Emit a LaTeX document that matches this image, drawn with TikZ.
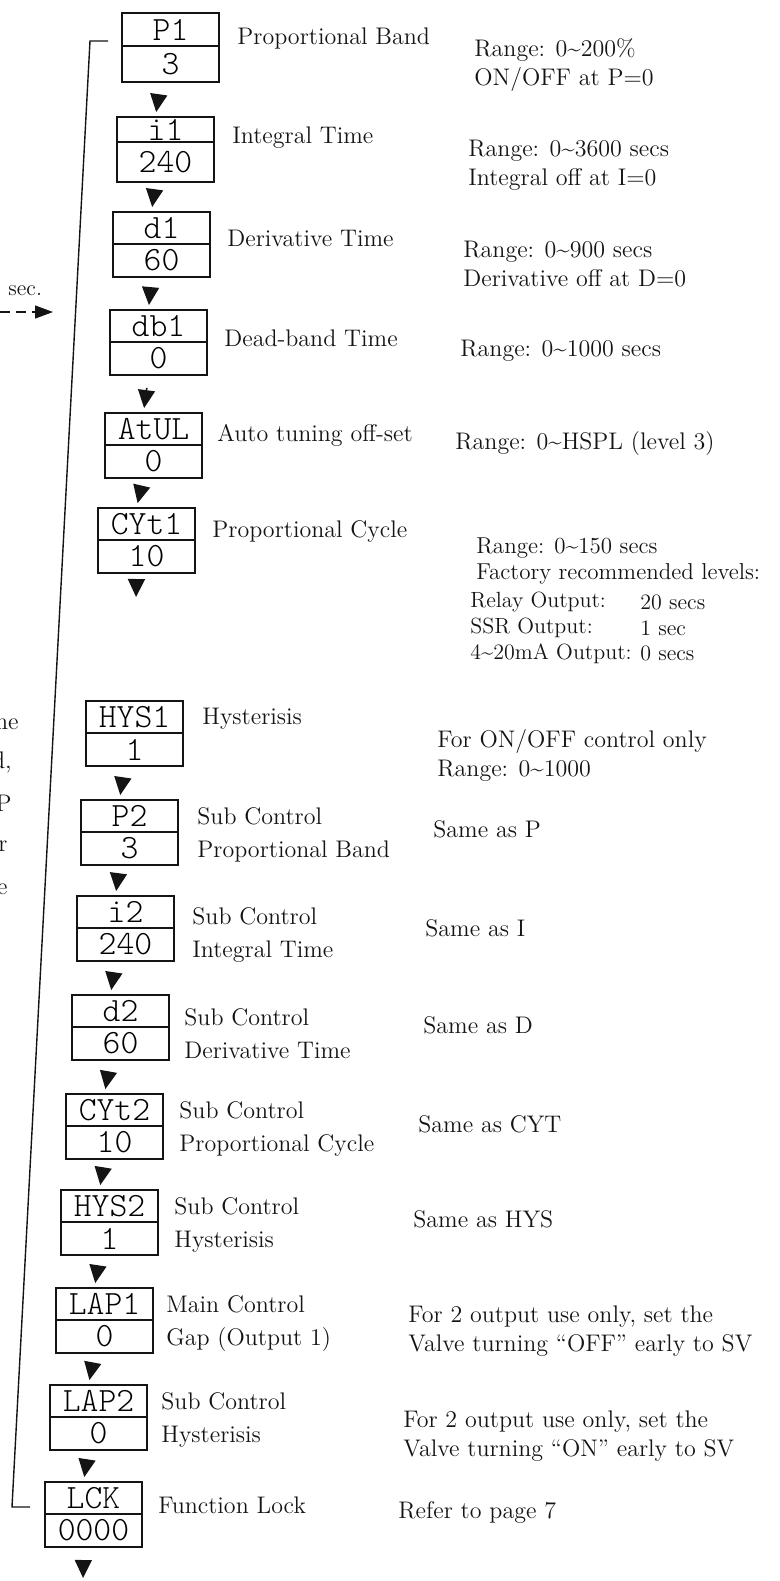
\documentclass[tikz,border=0pt]{standalone}
\usepackage{tikz}
\usetikzlibrary{arrows.meta}
\usetikzlibrary{positioning}
\definecolor{scan-ink}{HTML}{141414}

\begin{document}
\begin{tikzpicture}[x=0.5pt, y=-0.5pt,
    visor/.style={draw=scan-ink, line width=0.8pt, minimum width=48.5pt, minimum height=16pt,
        inner sep=0pt, outer sep=0pt, font=\fontsize{17}{17}\ttfamily\fontseries{l}\selectfont},
    valor/.style={visor, minimum height=16.5pt},
    etiqueta/.style={anchor=west, align=left, inner sep=0pt, scan-ink, font=\fontsize{12}{16.5}\selectfont},
    nota/.style={anchor=west, align=left, inner sep=0pt, scan-ink, font=\fontsize{12}{14.5}\selectfont},
    paso/.style={-{Triangle[width=8.5pt, length=9pt]}, line width=0.8pt, scan-ink,
        shorten <=6.5pt, shorten >=2.5pt},
    lazo/.style={line width=0.7pt, scan-ink, shorten <=7.5pt, shorten >=7pt}]

    \useasboundingbox (0,0) rectangle (780,1581);

    % --- VISORES DE 7 SEGMENTOS (parametro em cima, valor em baixo) ---
    \node[visor, anchor=north west, minimum height=16.5pt] (p1) at (122,13) {P1};
    \node[valor, below=0pt of p1, minimum height=18pt] (p1v) {3};

    \node[visor, anchor=north west, minimum height=12.5pt] (i1) at (117,117) {i1};
    \node[valor, below=0pt of i1, minimum height=20pt] (i1v) {240};

    \node[visor, anchor=north west] (d1) at (113,212) {d1};
    \node[valor, below=0pt of d1] (d1v) {60};

    \node[visor, anchor=north west] (db1) at (110,310) {db1};
    \node[valor, below=0pt of db1] (db1v) {0};

    \node[visor, anchor=north west] (atul) at (105,413) {AtUL};
    \node[valor, below=0pt of atul] (atulv) {0};

    \node[visor, anchor=north west] (cyt1) at (98,508) {CYt1};
    \node[valor, below=0pt of cyt1] (cyt1v) {10};

    \node[visor, anchor=north west] (hys1) at (86,701) {HYS1};
    \node[valor, below=0pt of hys1] (hys1v) {1};

    \node[visor, anchor=north west] (p2) at (81,800) {P2};
    \node[valor, below=0pt of p2] (p2v) {3};

    \node[visor, anchor=north west] (i2) at (77,896) {i2};
    \node[valor, below=0pt of i2] (i2v) {240};

    \node[visor, anchor=north west] (d2) at (72,995) {d2};
    \node[valor, below=0pt of d2] (d2v) {60};

    \node[visor, anchor=north west] (cyt2) at (66,1094) {CYt2};
    \node[valor, below=0pt of cyt2] (cyt2v) {10};

    \node[visor, anchor=north west] (hys2) at (61,1190) {HYS2};
    \node[valor, below=0pt of hys2] (hys2v) {1};

    \node[visor, anchor=north west] (lap1) at (56,1288) {LAP1};
    \node[valor, below=0pt of lap1] (lap1v) {0};

    \node[visor, anchor=north west] (lap2) at (50,1385) {LAP2};
    \node[valor, below=0pt of lap2] (lap2v) {0};

    \node[visor, anchor=north west] (lcy) at (45,1482) {LCK};
    \node[valor, below=0pt of lcy] (lcyv) {0000};

    % --- SETAS ENTRE OS VISORES ---
    \draw[paso] ([xshift=-5pt]p1v.south) -- ([xshift=-5pt]i1.north);
    \draw[paso] ([xshift=-5pt]i1v.south) -- ([xshift=-5pt]d1.north);
    \draw[paso] ([xshift=-5pt]d1v.south) -- ([xshift=-5pt]db1.north);
    \draw[paso] ([xshift=-5pt]db1v.south) -- ([xshift=-5pt]atul.north);
    \draw[paso] ([xshift=-5pt]atulv.south) -- ([xshift=-5pt]cyt1.north);
    \coordinate (cyt1-fim) at (136,602);
    \draw[paso] ([xshift=-5pt]cyt1v.south) -- (cyt1-fim);
    \draw[paso] ([xshift=-5pt]hys1v.south) -- ([xshift=-5pt]p2.north);
    \draw[paso] ([xshift=-5pt]p2v.south) -- ([xshift=-5pt]i2.north);
    \draw[paso] ([xshift=-5pt]i2v.south) -- ([xshift=-5pt]d2.north);
    \draw[paso] ([xshift=-5pt]d2v.south) -- ([xshift=-5pt]cyt2.north);
    \draw[paso] ([xshift=-5pt]cyt2v.south) -- ([xshift=-5pt]hys2.north);
    \draw[paso] ([xshift=-5pt]hys2v.south) -- ([xshift=-5pt]lap1.north);
    \draw[paso] ([xshift=-5pt]lap1v.south) -- ([xshift=-5pt]lap2.north);
    \draw[paso] ([xshift=-5pt]lap2v.south) -- ([xshift=-5pt]lcy.north);
    \coordinate (lcy-fim) at (83,1583);
    \draw[paso] ([xshift=-5pt]lcyv.south) -- (lcy-fim);

    % --- LACO DE RETORNO (LCK volta para P1) ---
    \coordinate (lazo-a) at (12,1507);
    \coordinate (lazo-b) at (90,41);
    \draw[lazo] (lazo-a -| lcy.west) -- (lazo-a) -- (lazo-b) -- (lazo-b -| p1.west);

    % --- ENTRADA "sec." VINDA DA PAGINA ANTERIOR ---
    \node[anchor=west, inner sep=0pt, scan-ink, font=\fontsize{11}{13}\selectfont] (seg) at (8,291) {sec.};
    \coordinate (seg-a) at (0,312);
    \coordinate (seg-b) at (53,312);
    \draw[dashed, dash pattern=on 5pt off 3pt, line width=0.6pt, scan-ink,
        -{Triangle[width=6.5pt, length=9pt]}] (seg-a) -- (seg-b);

    % --- RESTOS DE TEXTO CORTADOS NA MARGEM ---
    \node[anchor=east, inner sep=0pt, scan-ink, font=\fontsize{12}{14}\selectfont] (frag-he) at (19,721) {he};
    \node[anchor=east, inner sep=0pt, scan-ink, font=\fontsize{12}{14}\selectfont] (frag-d) at (12,762) {d,};
    \node[anchor=east, inner sep=0pt, scan-ink, font=\fontsize{12}{14}\selectfont] (frag-p) at (12,803) {P};
    \node[anchor=east, inner sep=0pt, scan-ink, font=\fontsize{12}{14}\selectfont] (frag-r) at (8,846) {r};
    \node[anchor=east, inner sep=0pt, scan-ink, font=\fontsize{12}{14}\selectfont] (frag-e) at (8,889) {e};

    % --- NOMES DOS PARAMETROS ---
    \node[etiqueta] (p1-lbl) at (237,38) {Proportional Band};
    \node[etiqueta] (i1-lbl) at (232,138) {Integral Time};
    \node[etiqueta] (d1-lbl) at (227,238) {Derivative Time};
    \node[etiqueta] (db1-lbl) at (224,338) {Dead-band Time};
    \node[etiqueta] (atul-lbl) at (217,435) {Auto tuning off-set};
    \node[etiqueta] (cyt1-lbl) at (212,531) {Proportional Cycle};
    \node[etiqueta] (hys1-lbl) at (202,719) {Hysterisis};
    \node[etiqueta] (p2-lbl) at (197,835) {Sub Control\\Proportional Band};
    \node[etiqueta] (i2-lbl) at (192,935) {Sub Control\\Integral Time};
    \node[etiqueta] (d2-lbl) at (184,1034) {Sub Control\\Derivative Time};
    \node[etiqueta] (cyt2-lbl) at (179,1129) {Sub Control\\Proportional Cycle};
    \node[etiqueta] (hys2-lbl) at (174,1225) {Sub Control\\Hysterisis};
    \node[etiqueta] (lap1-lbl) at (166,1324) {Main Control\\Gap (Output 1)};
    \node[etiqueta] (lap2-lbl) at (161,1420) {Sub Control\\Hysterisis};
    \node[etiqueta] (lcy-lbl) at (158,1505) {Function Lock};

    % --- FAIXAS E OBSERVACOES ---
    \node[nota] (p1-rng) at (474,65) {Range: 0\textasciitilde200\%\\ON/OFF at P=0};
    \node[nota] (i1-rng) at (468,165) {Range: 0\textasciitilde3600 secs\\Integral off at I=0};
    \node[nota] (d1-rng) at (463,264) {Range: 0\textasciitilde900 secs\\Derivative off at D=0};
    \node[nota] (db1-rng) at (460,351) {Range: 0\textasciitilde1000 secs};
    \node[nota] (atul-rng) at (455,444) {Range: 0\textasciitilde HSPL (level 3)};
    \node[nota, font=\fontsize{11.5}{12.9}\selectfont] (cyt1-rng) at (476,561) {Range: 0\textasciitilde150 secs\\Factory recommended levels:};
    \node[nota, font=\fontsize{11}{12.9}\selectfont] (cyt1-rel) at (470,628) {Relay Output:\\SSR Output:\\4\textasciitilde20mA Output:};
    \node[nota, font=\fontsize{11}{12.9}\selectfont] (cyt1-sec) at (640,628) {20 secs\\1 sec\\0 secs};
    \node[nota] (hys1-rng) at (437,755) {For ON/OFF control only\\Range: 0\textasciitilde1000};
    \node[nota] (p2-rng) at (433,829) {Same as P};
    \node[nota] (i2-rng) at (425,928) {Same as I};
    \node[nota] (d2-rng) at (423,1025) {Same as D};
    \node[nota] (cyt2-rng) at (418,1124) {Same as CYT};
    \node[nota] (hys2-rng) at (413,1219) {Same as HYS};
    \node[nota] (lap1-rng) at (408,1331) {For 2 output use only, set the\\Valve turning ``OFF'' early to SV};
    \node[nota] (lap2-rng) at (403,1436) {For 2 output use only, set the\\Valve turning ``ON'' early to SV};
    \node[nota] (lcy-rng) at (398,1512) {Refer to page 7};

\end{tikzpicture}
\end{document}
